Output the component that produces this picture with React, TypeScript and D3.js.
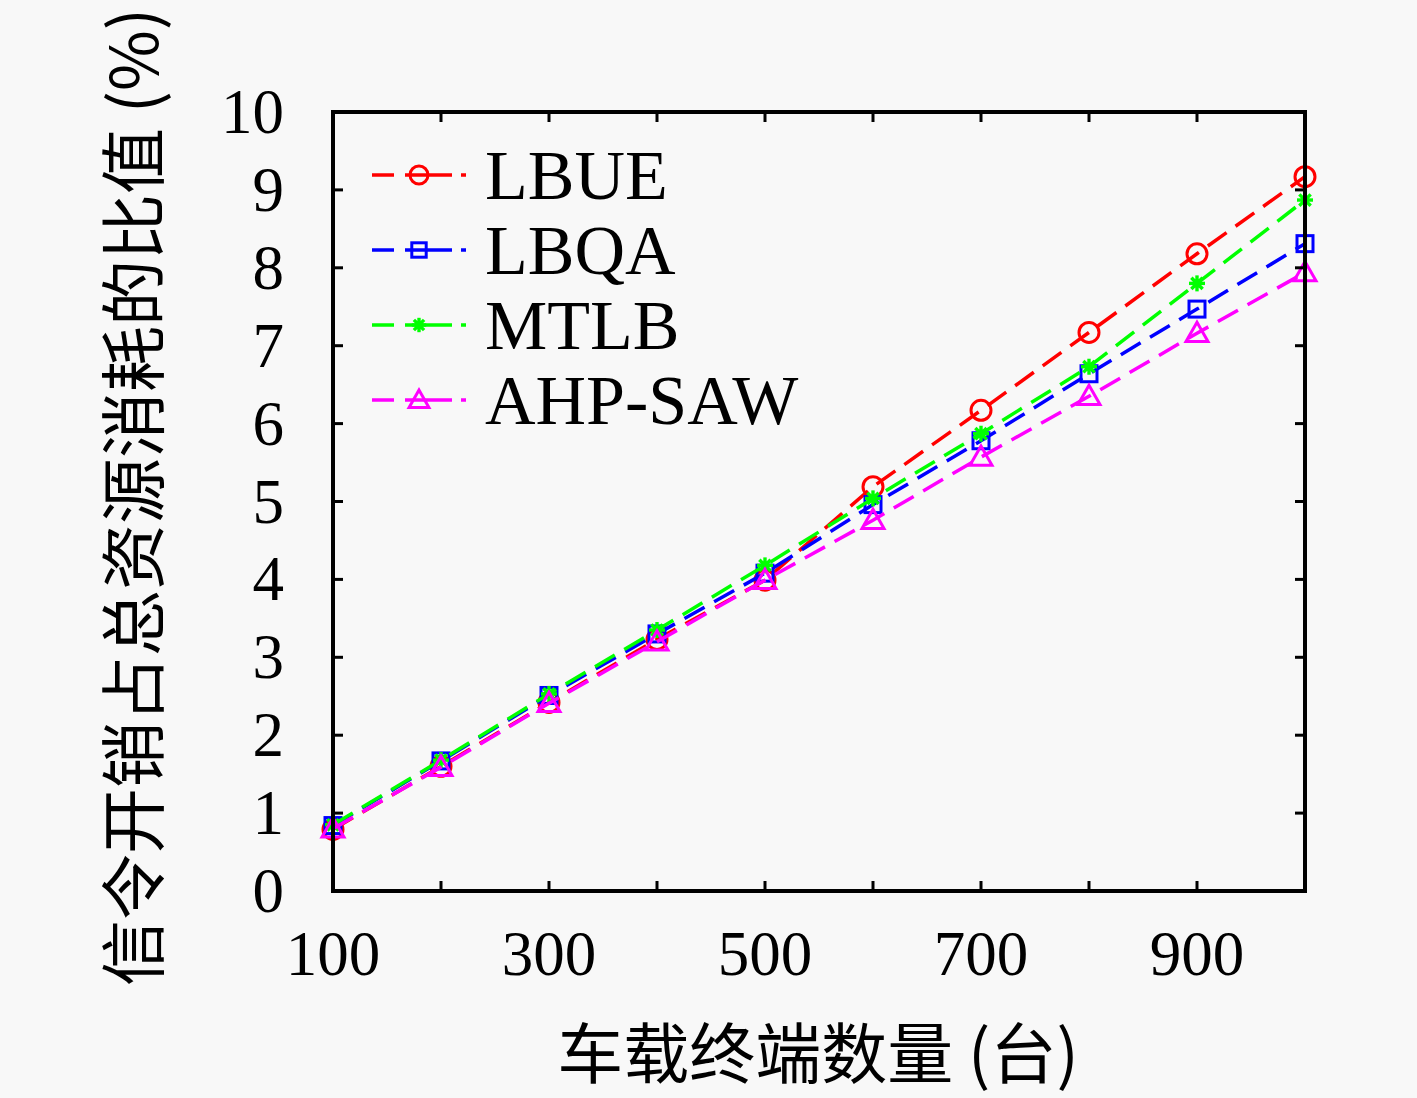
import React from "react";
import * as d3 from "d3";

const xValues = [100, 200, 300, 400, 500, 600, 700, 800, 900, 1000];
const lbue = [0.79, 1.6, 2.42, 3.23, 3.99, 5.19, 6.17, 7.17, 8.18, 9.17];
const lbqa = [0.84, 1.67, 2.51, 3.3, 4.08, 4.96, 5.78, 6.64, 7.47, 8.31];
const mtlb = [0.85, 1.68, 2.53, 3.35, 4.18, 5.04, 5.87, 6.73, 7.8, 8.87];
const ahpsaw = [0.8, 1.59, 2.41, 3.2, 3.99, 4.76, 5.57, 6.35, 7.16, 7.94];

const seriesNames = ["LBUE", "LBQA", "MTLB", "AHP-SAW"];
const seriesColors = ["#ff0000", "#0000ff", "#00ff00", "#ff00ff"];
const seriesMarkers = ["circle", "square", "star", "triangle"];
const seriesData = [lbue, lbqa, mtlb, ahpsaw];

const xTicks = [100, 200, 300, 400, 500, 600, 700, 800, 900, 1000];
const xTickLabels = [100, 300, 500, 700, 900];
const yTicks = [0, 1, 2, 3, 4, 5, 6, 7, 8, 9, 10];

const xTitle = "车载终端数量 (台)";
const yTitle = "信令开销占总资源消耗的比值 (%)";

const W = 1417;
const H = 1098;
const M = { left: 333, right: 1305, top: 112, bottom: 891 };

const serif = "'Liberation Serif', 'DejaVu Serif', serif";
const cjk = "'Noto Sans CJK SC', sans-serif";

function Marker({ type, x, y, color, scale = 1 }: { type: string; x: number; y: number; color: string; scale?: number }) {
  const sw = 3;
  if (type === "circle") {
    return <circle cx={x} cy={y} r={10 * scale} fill="none" stroke={color} strokeWidth={sw} />;
  }
  if (type === "square") {
    const h = 8 * scale;
    return <rect x={x - h} y={y - h} width={2 * h} height={2 * h} fill="none" stroke={color} strokeWidth={sw} />;
  }
  if (type === "triangle") {
    const s = 11 * scale;
    const p = `${x},${y - s} ${x - s},${y + s * 0.75} ${x + s},${y + s * 0.75}`;
    return <polygon points={p} fill="none" stroke={color} strokeWidth={sw} />;
  }
  const r = 8 * scale;
  const lines = [0, 45, 90, 135].map((a) => {
    const rad = (a * Math.PI) / 180;
    return (
      <line
        key={a}
        x1={x - r * Math.cos(rad)}
        y1={y - r * Math.sin(rad)}
        x2={x + r * Math.cos(rad)}
        y2={y + r * Math.sin(rad)}
        stroke={color}
        strokeWidth={3.4}
      />
    );
  });
  return <g>{lines}<circle cx={x} cy={y} r={4.5 * scale} fill={color} /></g>;
}

export default function App() {
  const x = d3.scaleLinear().domain([100, 1000]).range([M.left, M.right]);
  const y = d3.scaleLinear().domain([0, 10]).range([M.bottom, M.top]);
  const line = d3
    .line<number>()
    .x((_, i) => x(xValues[i]))
    .y((d) => y(d));

  const tickLen = 10;
  const legendX = 372;
  const legendY0 = 175;
  const legendStep = 75;

  return (
    <svg width={W} height={H} style={{ display: "block", position: "absolute", left: 0, top: 0, background: "#f8f8f8" }}>
      <rect x={0} y={0} width={W} height={H} fill="#f8f8f8" />
      {seriesData.map((d, si) => (
        <g key={seriesNames[si]}>
          <path d={line(d) || ""} fill="none" stroke={seriesColors[si]} strokeWidth={3.5} strokeDasharray="23,11" />
          {d.map((v, i) => (
            <Marker key={i} type={seriesMarkers[si]} x={x(xValues[i])} y={y(v)} color={seriesColors[si]} />
          ))}
        </g>
      ))}
      {xTicks.map((t) => (
        <g key={"xt" + t}>
          <line x1={x(t)} x2={x(t)} y1={M.bottom} y2={M.bottom - tickLen} stroke="#000" strokeWidth={3} />
          <line x1={x(t)} x2={x(t)} y1={M.top} y2={M.top + tickLen} stroke="#000" strokeWidth={3} />
        </g>
      ))}
      {yTicks.map((t) => (
        <g key={"yt" + t}>
          <line x1={M.left} x2={M.left + tickLen} y1={y(t)} y2={y(t)} stroke="#000" strokeWidth={3} />
          <line x1={M.right} x2={M.right - tickLen} y1={y(t)} y2={y(t)} stroke="#000" strokeWidth={3} />
        </g>
      ))}
      <rect x={M.left} y={M.top} width={M.right - M.left} height={M.bottom - M.top} fill="none" stroke="#000" strokeWidth={4} />
      {xTickLabels.map((t) => (
        <text key={"xl" + t} x={x(t)} y={975} textAnchor="middle" fontFamily={serif} fontSize={63} fill="#000">
          {t}
        </text>
      ))}
      {yTicks.map((t) => (
        <text key={"yl" + t} x={284} y={y(t) + 21} textAnchor="end" fontFamily={serif} fontSize={63} fill="#000">
          {t}
        </text>
      ))}
      <text x={818} y={1078} textAnchor="middle" fontFamily={cjk} fontSize={66} fill="#000">
        {xTitle}
      </text>
      <text
        transform={`translate(158, 497) rotate(-90)`}
        textAnchor="middle"
        fontFamily={cjk}
        fontSize={66}
        fill="#000"
      >
        {yTitle}
      </text>
      {seriesNames.map((n, i) => {
        const ly = legendY0 + i * legendStep;
        return (
          <g key={"lg" + n}>
            <line x1={legendX} x2={legendX + 22} y1={ly} y2={ly} stroke={seriesColors[i]} strokeWidth={3.5} />
            <line x1={legendX + 33} x2={legendX + 80} y1={ly} y2={ly} stroke={seriesColors[i]} strokeWidth={3.5} />
            <line x1={legendX + 89} x2={legendX + 94} y1={ly} y2={ly} stroke={seriesColors[i]} strokeWidth={3.5} />
            <Marker type={seriesMarkers[i]} x={legendX + 47} y={ly} color={seriesColors[i]} scale={0.9} />
            <text x={485} y={ly + 24} fontFamily={serif} fontSize={70} fill="#000">
              {n}
            </text>
          </g>
        );
      })}
    </svg>
  );
}
